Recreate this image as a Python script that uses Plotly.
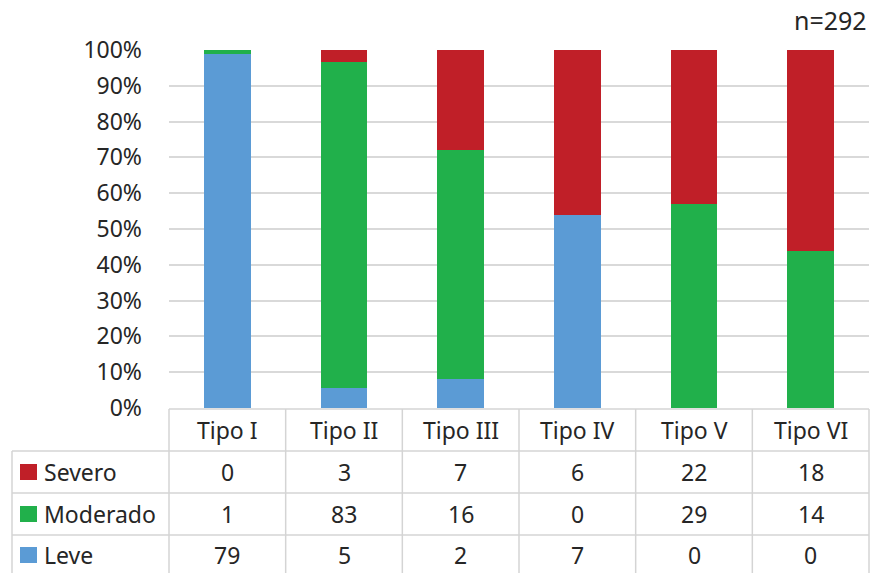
import plotly.graph_objects as go

# Data
categories = ["Tipo I", "Tipo II", "Tipo III", "Tipo IV", "Tipo V", "Tipo VI"]
severo = [0, 3, 7, 6, 22, 18]
moderado = [1, 83, 16, 0, 29, 14]
leve = [79, 5, 2, 7, 0, 0]

series_names = ["Severo", "Moderado", "Leve"]
series_values = [severo, moderado, leve]
series_colors = ["#C01F28", "#21B04B", "#5B9BD5"]

n_total = sum(severo) + sum(moderado) + sum(leve)

# Canvas geometry (pixels)
W, H = 874, 573
L, R, T, B = 169, 5, 50, 165
plot_w = W - L - R
plot_h = H - T - B

FONT = "Noto Sans"
TXT = "#262626"
GRID = "#D9D9D9"
TABLE_LINE = "#D4D4D4"
FS = 23


def px_x(x):
    return (x - L) / plot_w


def px_y(y):
    return (H - B - y) / plot_h


fig = go.Figure()

# Stacked bars, bottom to top: Leve, Moderado, Severo
for name, vals, col in reversed(list(zip(series_names, series_values, series_colors))):
    fig.add_trace(go.Bar(
        x=categories, y=vals, name=name, marker=dict(color=col, line=dict(width=0)),
        showlegend=False,
    ))

shapes = []
annotations = []

# Data table below the chart
row_lines = [409, 451, 493, 535, 575]
col_count = len(categories)
col_w = plot_w / col_count
col_lines = [L + i * col_w for i in range(col_count + 1)]

# horizontal lines
shapes.append(dict(type="line", xref="paper", yref="paper",
                   x0=px_x(L), x1=px_x(L + plot_w), y0=px_y(row_lines[0]), y1=px_y(row_lines[0]),
                   line=dict(color=TABLE_LINE, width=1.5)))
for yl in row_lines[1:]:
    shapes.append(dict(type="line", xref="paper", yref="paper",
                       x0=px_x(12), x1=px_x(L + plot_w), y0=px_y(yl), y1=px_y(yl),
                       line=dict(color=TABLE_LINE, width=1.5)))
# vertical lines
shapes.append(dict(type="line", xref="paper", yref="paper",
                   x0=px_x(12), x1=px_x(12), y0=px_y(row_lines[1]), y1=px_y(row_lines[-1]),
                   line=dict(color=TABLE_LINE, width=1.5)))
for xl in col_lines:
    shapes.append(dict(type="line", xref="paper", yref="paper",
                       x0=px_x(xl), x1=px_x(xl), y0=px_y(row_lines[0]), y1=px_y(row_lines[-1]),
                       line=dict(color=TABLE_LINE, width=1.5)))

# header row
for cat in categories:
    annotations.append(dict(x=cat, xref="x", y=px_y(430), yref="paper", text=cat,
                            showarrow=False, xanchor="center", yanchor="middle",
                            font=dict(family=FONT, size=FS, color=TXT)))

# body rows with legend keys
row_centers = [472, 514, 555]
for (name, vals, col), yc in zip(zip(series_names, series_values, series_colors), row_centers):
    shapes.append(dict(type="rect", xref="paper", yref="paper",
                       x0=px_x(20), x1=px_x(37), y0=px_y(yc - 8), y1=px_y(yc + 8),
                       fillcolor=col, line=dict(width=0)))
    annotations.append(dict(x=px_x(42), xref="paper", y=px_y(yc), yref="paper", text=name,
                            showarrow=False, xanchor="left", yanchor="middle",
                            font=dict(family=FONT, size=FS, color=TXT)))
    for cat, v in zip(categories, vals):
        annotations.append(dict(x=cat, xref="x", y=px_y(yc), yref="paper", text=str(v),
                                showarrow=False, xanchor="center", yanchor="middle",
                                font=dict(family=FONT, size=FS, color=TXT)))

# sample size
annotations.append(dict(x=px_x(869), xref="paper", y=px_y(20), yref="paper", text=f"n={n_total}",
                        showarrow=False, xanchor="right", yanchor="middle",
                        font=dict(family=FONT, size=25, color=TXT)))

fig.update_layout(
    width=W, height=H,
    margin=dict(l=L, r=R, t=T, b=B, pad=0),
    barmode="stack", barnorm="fraction", bargap=0.6,
    plot_bgcolor="white", paper_bgcolor="white",
    font=dict(family=FONT, size=FS, color=TXT),
    shapes=shapes, annotations=annotations,
    xaxis=dict(range=[-0.5, 5.5], showticklabels=False, showgrid=False,
               zeroline=False, showline=False, ticks=""),
    yaxis=dict(range=[0, 1], tickvals=[i / 10 for i in range(11)], tickformat=".0%",
               showgrid=True, gridcolor=GRID, gridwidth=1.5, zeroline=False,
               showline=False, ticks="", ticklabelstandoff=26,
               tickfont=dict(family=FONT, size=FS, color=TXT)),
)

fig.write_html("out.html")
